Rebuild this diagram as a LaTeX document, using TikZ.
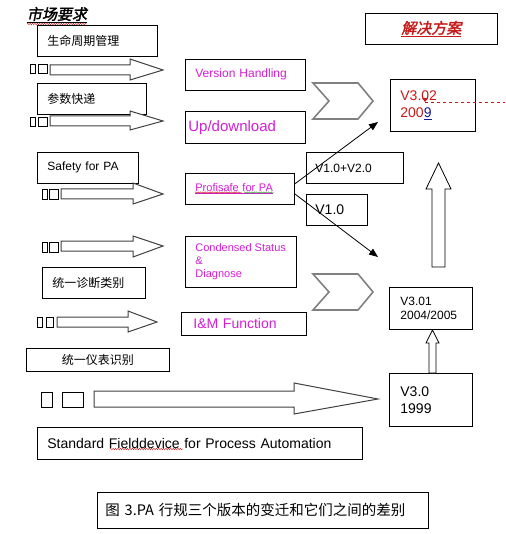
\documentclass[tikz,border=0pt]{standalone}
\usepackage{fontspec}
\setmainfont{Liberation Sans}
\newfontfamily\cjk{Noto Sans CJK SC}
\newfontfamily\cjkbi[FakeSlant=0.2,FakeBold=2]{Noto Sans CJK SC}
\usepackage{tikz}
\usetikzlibrary{arrows.meta,positioning,calc,decorations.pathmorphing}
\definecolor{pamag}{RGB}{210,30,210}
\definecolor{pared}{RGB}{200,25,25}
\definecolor{pagreen}{RGB}{40,150,40}
\definecolor{panavy}{RGB}{25,25,140}

\begin{document}
\begin{tikzpicture}[x=1pt, y=-1pt,
  box/.style 2 args={draw, line width=0.8pt, anchor=north west, inner xsep=10pt, inner ysep=0pt,
    text width=#1, minimum height=#2, align=left, font=\fontsize{12}{14}\selectfont},
  qbox/.style 2 args={draw, line width=0.6pt, inner sep=0pt, anchor=north west,
    minimum width=#1, minimum height=#2},
  blk/.style={draw=gray!50!black, line width=1pt, fill=white, line join=miter},
  chev/.style={draw=gray, line width=1.6pt, line join=miter},
  hol/.style={draw=black, line width=0.8pt, fill=white, line join=miter},
  conn/.style={draw=black, line width=0.8pt, -{Triangle[length=9pt,width=7pt]}},
  wavy/.style={decorate, decoration={snake, amplitude=0.7pt, segment length=2.4pt}, line width=0.4pt}]
  \useasboundingbox (0,0) rectangle (505,534);

  % market side
  \node (mkt) [inner sep=0pt, font=\fontsize{15}{15}\cjkbi] at (57,15) {\underline{市场要求}};
  \draw[wavy, pared] (27,24) -- (87,24);

  \node (lcm) [box={100pt}{31pt}, font=\fontsize{12}{14}\cjk] at (37,25) {生命周期管理};
  \node (para) [box={89pt}{31pt}, font=\fontsize{12}{14}\cjk] at (37,83) {参数快递};
  \node (safe) [box={81pt}{31pt}] at (37,152) {Safety for PA};
  \node (diag) [box={83pt}{31pt}, font=\fontsize{12}{14}\cjk] at (42,267) {统一诊断类别};
  \node (inst) [box={123pt}{23pt}, align=center, font=\fontsize{12}{14}\cjk] at (26,348) {统一仪表识别};
  \node (std) [box={305pt}{32pt}, font=\fontsize{14}{16}\selectfont] at (37,427)
    {Standard Fielddevice for Process Automation};
  \draw[wavy, pared] (110,449) -- (183,449);

  % glyph boxes
  \node (q1a) [qbox={5pt}{9pt}] at (30,64) {};
  \node (q1b) [qbox={9pt}{9pt}] at (38,64) {};
  \node (q2a) [qbox={5pt}{9pt}] at (30,117) {};
  \node (q2b) [qbox={9pt}{9pt}] at (38,117) {};
  \node (q3a) [qbox={5pt}{10pt}] at (42,189) {};
  \node (q3b) [qbox={9pt}{10pt}] at (49,189) {};
  \node (q4a) [qbox={5pt}{10pt}] at (42,242) {};
  \node (q4b) [qbox={9pt}{10pt}] at (49,242) {};
  \node (q5a) [qbox={5pt}{10pt}] at (37,317) {};
  \node (q5b) [qbox={7pt}{10pt}] at (46,317) {};
  \node (q6a) [qbox={11pt}{15pt}] at (41,392) {};
  \node (q6b) [qbox={21pt}{15pt}] at (62,392) {};

  % block arrows
  \draw[blk] (50,65) -- (130,65) -- (130,59) -- (163,70) -- (130,80) -- (130,75) -- (50,75) -- cycle;
  \draw[blk] (50,116) -- (130,116) -- (130,111) -- (163,121) -- (130,130) -- (130,126) -- (50,126) -- cycle;
  \draw[blk] (61,189) -- (133,189) -- (133,183) -- (163,194) -- (133,204) -- (133,199) -- (61,199) -- cycle;
  \draw[blk] (61,241) -- (133,241) -- (133,236) -- (163,246) -- (133,257) -- (133,251) -- (61,251) -- cycle;
  \draw[blk] (57,317) -- (128,317) -- (128,311) -- (157,322) -- (128,332) -- (128,327) -- (57,327) -- cycle;
  \draw[blk] (94,391) -- (294,391) -- (294,383) -- (378,399) -- (294,414) -- (294,407) -- (94,407) -- cycle;

  % profile features
  \node (vh) [box={100pt}{31pt}, text=pamag] at (185,59) {Version Handling};
  \node (updl) [box={114pt}{32pt}, inner xsep=3pt, text=pamag, font=\fontsize{15}{17}\selectfont] at (185,111) {Up/download};
  \node (profi) [box={89pt}{31pt}, text=pamag, font=\fontsize{11}{13}\selectfont] at (185,173) {\underline{Profisafe for PA}};
  \draw[wavy, pared] (195,192.5) -- (242,192.5);
  \draw[wavy, pagreen] (244,192.5) -- (274,192.5);
  \node (cond) [box={}{51pt}, minimum width=109pt, text=pamag, font=\fontsize{11}{13}\selectfont] at (185,236)
    {Condensed Status\\\&\\Diagnose};
  \node (imf) [box={101pt}{23pt}, inner xsep=12pt, text=pamag, font=\fontsize{14}{16}\selectfont] at (181,312) {I\&M Function};

  \draw[chev] (313,83) -- (358,83) -- (373,101) -- (358,119) -- (313,119) -- (329,101) -- cycle;
  \draw[chev] (313,274) -- (358,274) -- (373,292) -- (358,310) -- (313,310) -- (329,292) -- cycle;

  % solutions
  \node (sol) [box={112pt}{31pt}, align=center, text=pared, font=\fontsize{15}{15}\cjkbi] at (365,13) {\underline{解决方案}};
  \node (v302) [box={65pt}{52pt}, text=pared, font=\fontsize{14}{17}\selectfont] at (390,79)
    {V3.02\\200{\color{panavy}\underline{9}}};
  \node (v1v2) [box={79pt}{31pt}, inner xsep=9pt] at (306,152) {V1.0+V2.0};
  \node (v10) [box={43pt}{31pt}, inner xsep=9pt, font=\fontsize{14}{16}\selectfont] at (306,194) {V1.0};
  \node (v301) [box={61pt}{42pt}, inner xsep=11pt] at (389,287) {V3.01\\2004/2005};
  \node (v30) [box={61pt}{53pt}, inner xsep=11pt, font=\fontsize{14}{17}\selectfont] at (389,373) {V3.0\\1999};

  % comment mark
  \coordinate (mk) at (425,102);
  \coordinate (mkend) at (505,102);
  \fill[pared] (422,98) -- (428,98) -- (mk) -- cycle;
  \draw[pared, dashed, line width=0.8pt] (mk) -- (mkend);

  % version steps
  \coordinate (t1) at (378,122);
  \coordinate (t2) at (378,257);
  \draw[conn] ([yshift=5pt]profi.east) -- (t1);
  \draw[conn] ([yshift=-5pt]profi.east) -- (t2);
  \draw[hol] (432,267) -- (432,189) -- (426,189) -- (438.5,163) -- (451,189) -- (445,189) -- (445,267) -- cycle;
  \draw[hol] (429,373) -- (429,343) -- (426,343) -- (432.5,330) -- (439,343) -- (436,343) -- (436,373) -- cycle;

  % caption
  \node (cap) [box={315pt}{36pt}, inner xsep=8pt, font=\fontsize{14.5}{16}\cjk] at (97,492)
    {图 3.PA 行规三个版本的变迁和它们之间的差别};
\end{tikzpicture}
\end{document}
